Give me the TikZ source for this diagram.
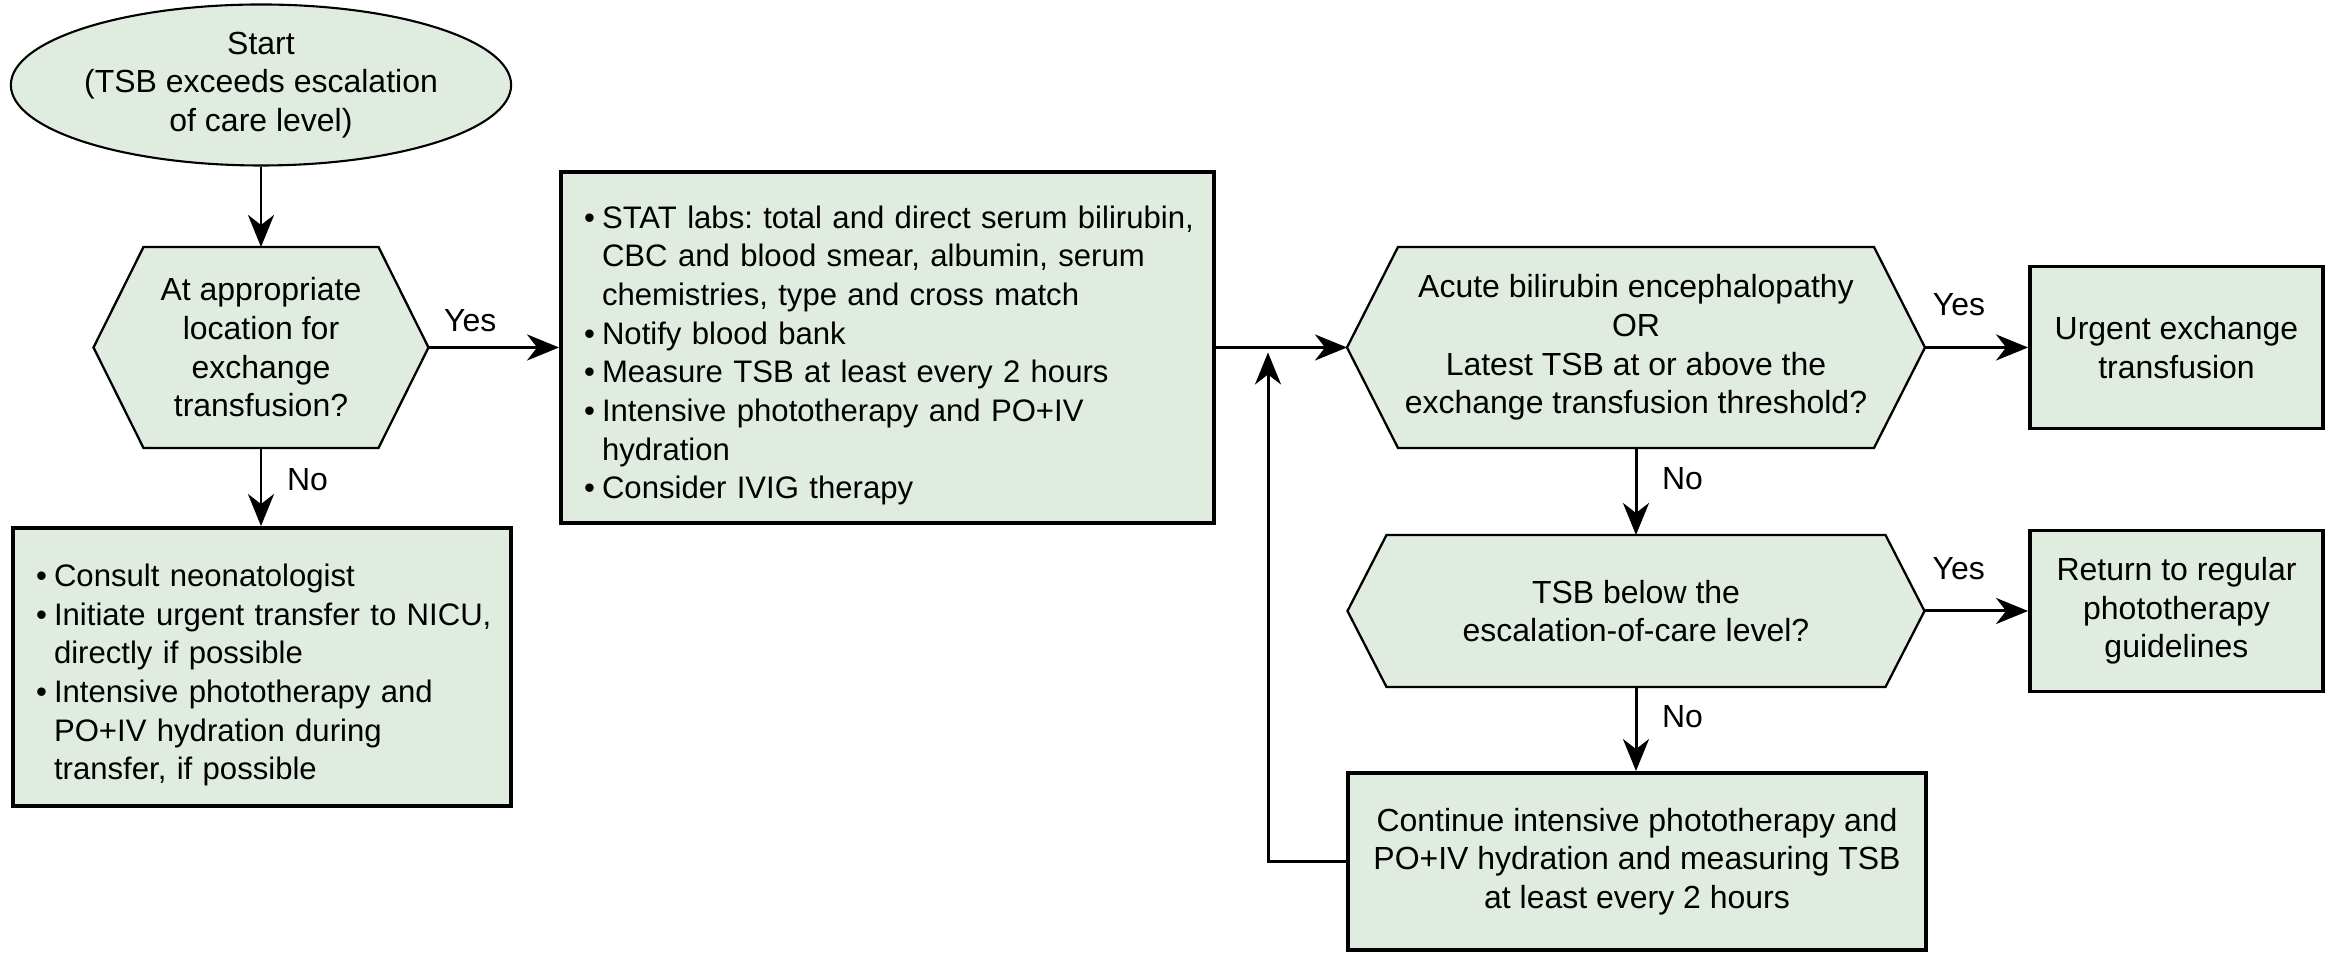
\documentclass[tikz,border=0pt]{standalone}
\usepackage{fontspec}
\setmainfont{Liberation Sans}
\usetikzlibrary{shapes.geometric}
\usetikzlibrary{positioning}
\usetikzlibrary{arrows.meta}
\usetikzlibrary{backgrounds}
\definecolor{boxgreen}{RGB}{224,236,224}
\newcommand{\blt}{\par\leftskip=0.19cm\hangindent=0.58em\hangafter=1\noindent\makebox[0.58em][l]{\textbullet}}
\tikzset{
    boxn/.style = {rectangle, line width=1.1pt, draw=black, fill=boxgreen, inner sep=0pt, align=center},
    listn/.style = {rectangle, line width=1.1pt, draw=black, fill=boxgreen, inner xsep=0.04cm, inner ysep=0pt, align=left,
                    font=\fontsize{8.85}{11}\selectfont},
    startn/.style = {ellipse, line width=0.6pt, draw=black, fill=boxgreen, inner sep=0pt, align=center},
    hexn/.style = {rectangle, inner sep=0pt, outer sep=0pt, align=center},
    hexline/.style = {line width=0.65pt, draw=black, fill=boxgreen},
    edgen/.style = {-{Stealth[length=3.2mm,width=2.6mm,inset=1mm]}, line width=0.85pt},
    yesl/.style = {above=#1, inner sep=3pt},
    nol/.style = {right=4pt, inner sep=3pt}
}

\begin{document}
\frenchspacing
\hyphenpenalty=10000
\begin{tikzpicture}[font=\fontsize{9.1}{11}\selectfont]
  \useasboundingbox (0,0) rectangle (23.28,-9.54);

  % left column
  \node[startn, minimum width=4.96cm, minimum height=1.61cm] at (2.61,-0.85) (s)
    {Start\\(TSB exceeds escalation\\of care level)};
  \node[hexn, minimum width=3.35cm, minimum height=2.01cm] at (2.61,-3.475) (loc)
    {At appropriate\\location for\\exchange\\transfusion?};
  \node[listn, text width=4.90cm, minimum height=2.78cm] at (2.62,-6.67) (nicu)
    {\blt Consult neonatologist
     \blt Initiate urgent transfer to NICU,\newline directly if possible
     \blt Intensive phototherapy and\newline PO+IV hydration during\newline transfer, if possible\par};

  % labs
  \node[listn, text width=6.45cm, minimum height=3.51cm] at (8.875,-3.475) (stat)
    {\blt STAT labs: total and direct serum bilirubin,\newline CBC and blood smear, albumin, serum\newline chemistries, type and cross match
     \blt Notify blood bank
     \blt Measure TSB at least every 2 hours
     \blt Intensive phototherapy and PO+IV\newline hydration
     \blt Consider IVIG therapy\par};

  % right part
  \node[hexn, minimum width=5.78cm, minimum height=2.01cm] at (16.36,-3.475) (acute)
    {Acute bilirubin encephalopathy\\OR\\Latest TSB at or above the\\exchange transfusion threshold?};
  \node[boxn, minimum width=2.93cm, minimum height=1.62cm] at (21.765,-3.475) (urgent)
    {Urgent exchange\\transfusion};
  \node[hexn, minimum width=5.77cm, minimum height=1.52cm] at (16.36,-6.11) (below)
    {TSB below the\\escalation-of-care level?};
  \node[boxn, minimum width=2.93cm, minimum height=1.61cm] at (21.765,-6.11) (back)
    {Return to regular\\phototherapy\\guidelines};
  \node[boxn, minimum width=5.78cm, minimum height=1.77cm] at (16.37,-8.615) (cont)
    {Continue intensive phototherapy and\\PO+IV hydration and measuring TSB\\at least every 2 hours};
  \coordinate (merge) at (12.68,-3.525);

  \begin{pgfonlayer}{background}
    \foreach \n/\d in {loc/0.50,acute/0.51,below/0.39}
      \draw[hexline] (\n.west) -- ([xshift=\d cm]\n.north west) -- ([xshift=-\d cm]\n.north east)
        -- (\n.east) -- ([xshift=-\d cm]\n.south east) -- ([xshift=\d cm]\n.south west) -- cycle;
  \end{pgfonlayer}

  \draw[edgen] (s.south) -- (s.south |- loc.north);
  \draw[edgen] (loc.east) -- node[yesl=1pt, pos=0.32] {Yes} (stat.west |- loc.east);
  \draw[edgen] (loc.south) -- node[nol, pos=0.4] {No} (loc.south |- nicu.north);
  \draw[edgen] (stat.east |- acute.west) -- (acute.west);
  \draw[edgen] (acute.east) -- node[yesl=5.5pt, pos=0.33] {Yes} (urgent.west);
  \draw[edgen] (acute.south) -- node[nol, pos=0.35] {No} (acute.south |- below.north);
  \draw[edgen] (below.east) -- node[yesl=5.5pt, pos=0.33] {Yes} (back.west);
  \draw[edgen] (below.south) -- node[nol, pos=0.35] {No} (below.south |- cont.north);
  \draw[edgen] (cont.west) -| (merge);

\end{tikzpicture}
\end{document}
